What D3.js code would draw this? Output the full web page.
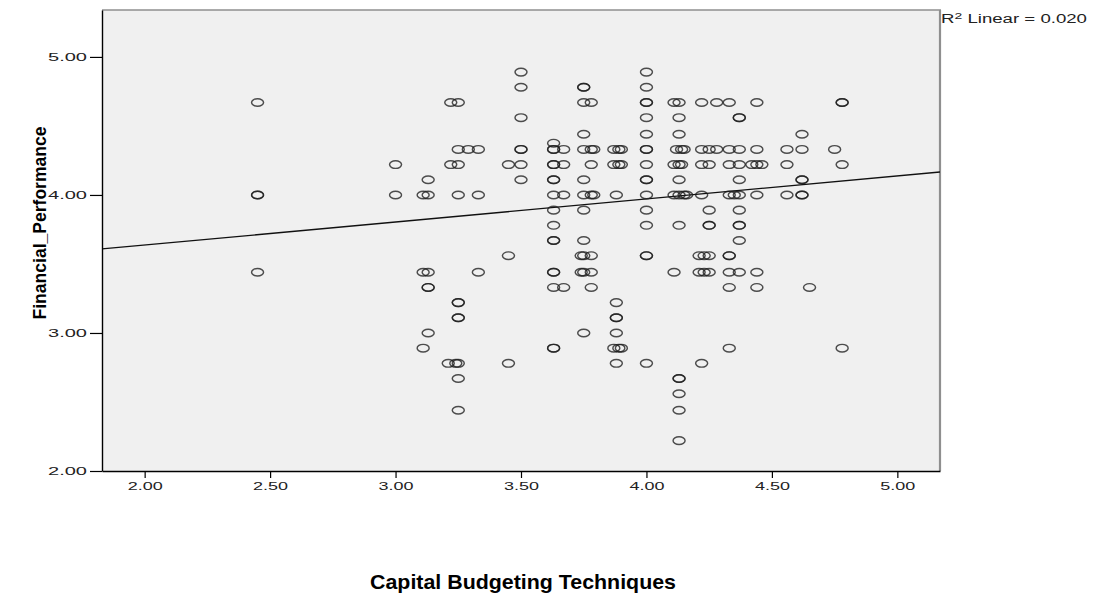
<!DOCTYPE html>
<html>
<head>
<meta charset="utf-8">
<script src="https://cdn.jsdelivr.net/npm/d3@7"></script>
<style>
  html, body { margin: 0; padding: 0; background: #ffffff; }
  svg { display: block; font-family: "Liberation Sans", Arial, Helvetica, sans-serif; }
</style>
</head>
<body>
<svg id="chart" width="1099" height="597"></svg>
<script>
// ---------------- DATA ----------------
// Financial_Performance levels (y) and the Capital Budgeting Techniques values (x) observed at each level
const fpLevels = [4.89, 4.78, 4.67, 4.56, 4.44, 4.375, 4.33, 4.22, 4.11, 4.00, 3.89, 3.78, 3.67,
                  3.56, 3.44, 3.33, 3.22, 3.11, 3.00, 2.89, 2.78, 2.67, 2.56, 2.44, 2.22];
const cbtAtLevel = [
  [3.50, 4.00],
  [3.50, 3.75, 3.75, 4.00],
  [2.45, 3.22, 3.25, 3.75, 3.78, 4.00, 4.00, 4.11, 4.13, 4.22, 4.28, 4.33, 4.44, 4.78, 4.78],
  [3.50, 4.00, 4.13, 4.37, 4.37],
  [3.75, 4.00, 4.13, 4.62],
  [3.63],
  [3.25, 3.29, 3.33, 3.50, 3.50, 3.63, 3.63, 3.67, 3.75, 3.78, 3.79, 3.87, 3.89, 3.90, 4.00, 4.00,
   4.12, 4.14, 4.15, 4.22, 4.25, 4.28, 4.33, 4.37, 4.44, 4.56, 4.62, 4.75],
  [3.00, 3.22, 3.25, 3.45, 3.50, 3.63, 3.63, 3.67, 3.78, 3.87, 3.89, 3.90, 4.00, 4.11, 4.13, 4.14,
   4.22, 4.25, 4.33, 4.37, 4.42, 4.44, 4.46, 4.56, 4.78],
  [3.13, 3.50, 3.63, 3.63, 3.75, 4.00, 4.00, 4.13, 4.37, 4.62, 4.62],
  [2.45, 2.45, 3.00, 3.11, 3.13, 3.25, 3.33, 3.63, 3.67, 3.75, 3.78, 3.79, 3.88, 4.00, 4.11, 4.13,
   4.15, 4.16, 4.22, 4.33, 4.35, 4.37, 4.44, 4.56, 4.62, 4.62],
  [3.63, 3.75, 4.00, 4.25, 4.37],
  [3.63, 4.00, 4.13, 4.25, 4.25, 4.37, 4.37],
  [3.63, 3.63, 3.75, 4.37],
  [3.45, 3.74, 3.75, 3.78, 4.00, 4.00, 4.21, 4.23, 4.25, 4.33, 4.33],
  [2.45, 3.11, 3.13, 3.33, 3.63, 3.63, 3.74, 3.75, 3.78, 4.11, 4.21, 4.23, 4.25, 4.33, 4.37, 4.44],
  [3.13, 3.13, 3.63, 3.67, 3.78, 4.33, 4.44, 4.65],
  [3.25, 3.25, 3.88],
  [3.25, 3.25, 3.88, 3.88],
  [3.13, 3.75, 3.88],
  [3.11, 3.63, 3.63, 3.87, 3.89, 3.90, 4.33, 4.78],
  [3.21, 3.24, 3.25, 3.45, 3.88, 4.00, 4.22],
  [3.25, 4.13, 4.13],
  [4.13],
  [3.25, 4.13],
  [4.13]
];
const xTickValues = [2.00, 2.50, 3.00, 3.50, 4.00, 4.50, 5.00];
const yTickValues = [2.00, 3.00, 4.00, 5.00];
const xDomain = [1.83, 5.17];
const yDomain = [2.00, 5.34];
const fitIntercept = 3.303;   // linear fit line
const fitSlope = 0.167;
const r2Label = "0.020";
const xTitle = "Capital Budgeting Techniques";
const yTitle = "Financial_Performance";

// ---------------- BUILD ----------------
const points = [];
fpLevels.forEach((fy, i) => cbtAtLevel[i].forEach(cx => points.push({ x: cx, y: fy })));

const svg = d3.select("#chart");
const L = 102, R = 940, T = 10, B = 471;

const x = d3.scaleLinear().domain(xDomain).range([L, R]);
const y = d3.scaleLinear().domain(yDomain).range([B, T]);

// plot background
svg.append("rect")
  .attr("x", L).attr("y", T).attr("width", R - L).attr("height", B - T)
  .attr("fill", "#f0f0f0");

// top / right frame (grey)
svg.append("line").attr("x1", L).attr("x2", R + 1).attr("y1", T).attr("y2", T)
  .attr("stroke", "#8f8f8f").attr("stroke-width", 1.6);
svg.append("line").attr("x1", R).attr("x2", R).attr("y1", T).attr("y2", B)
  .attr("stroke", "#8f8f8f").attr("stroke-width", 2.2);

// clip for marks
svg.append("clipPath").attr("id", "plotclip")
  .append("rect").attr("x", L).attr("y", T).attr("width", R - L).attr("height", B - T);

const marks = svg.append("g").attr("clip-path", "url(#plotclip)");

// fit line
marks.append("line")
  .attr("x1", x(xDomain[0])).attr("y1", y(fitIntercept + fitSlope * xDomain[0]))
  .attr("x2", x(xDomain[1])).attr("y2", y(fitIntercept + fitSlope * xDomain[1]))
  .attr("stroke", "#111").attr("stroke-width", 1.3);

// points
marks.selectAll("ellipse.pt").data(points).join("ellipse")
  .attr("class", "pt")
  .attr("cx", d => x(d.x))
  .attr("cy", d => y(d.y))
  .attr("rx", 6).attr("ry", 3.8)
  .attr("fill", "none")
  .attr("stroke", "#1e1e1e")
  .attr("stroke-opacity", 0.78)
  .attr("stroke-width", 1.45);

// axes
const fmt = d3.format(".2f");
const xAxis = svg.append("g").attr("transform", `translate(0,${B})`)
  .call(d3.axisBottom(x).tickValues(xTickValues).tickFormat(fmt).tickSize(7).tickSizeOuter(0).tickPadding(4));
const yAxis = svg.append("g").attr("transform", `translate(${L},0)`)
  .call(d3.axisLeft(y).tickValues(yTickValues).tickFormat(fmt).tickSize(12).tickSizeOuter(0).tickPadding(3));

[xAxis, yAxis].forEach(g => {
  g.select(".domain").attr("stroke", "#000").attr("stroke-width", 1.4);
  g.selectAll(".tick line").attr("stroke", "#000").attr("stroke-width", 1.2);
  g.selectAll(".tick text")
    .attr("fill", "#222")
    .style("font-family", "'Liberation Sans', Arial, sans-serif")
    .style("font-size", "11px");
});
xAxis.selectAll(".tick text").attr("textLength", 35).attr("lengthAdjust", "spacingAndGlyphs");
yAxis.selectAll(".tick text").attr("textLength", 39).attr("lengthAdjust", "spacingAndGlyphs");

// R² label
const r2 = svg.append("text")
  .attr("x", 941).attr("y", 23)
  .attr("fill", "#222")
  .style("font-size", "12px")
  .attr("textLength", 146).attr("lengthAdjust", "spacingAndGlyphs");
r2.append("tspan").text("R");
r2.append("tspan").attr("dy", -4).style("font-size", "9px").text("2");
r2.append("tspan").attr("dy", 4).text(" Linear = " + r2Label);

// axis titles
svg.append("text")
  .attr("x", 523).attr("y", 589)
  .attr("text-anchor", "middle")
  .attr("fill", "#000")
  .style("font-size", "21px").style("font-weight", "bold")
  .attr("textLength", 306).attr("lengthAdjust", "spacingAndGlyphs")
  .text(xTitle);

svg.append("text")
  .attr("transform", "translate(46,223) rotate(-90)")
  .attr("text-anchor", "middle")
  .attr("fill", "#000")
  .style("font-size", "19px").style("font-weight", "bold")
  .attr("textLength", 193).attr("lengthAdjust", "spacingAndGlyphs")
  .text(yTitle);
</script>
</body>
</html>
